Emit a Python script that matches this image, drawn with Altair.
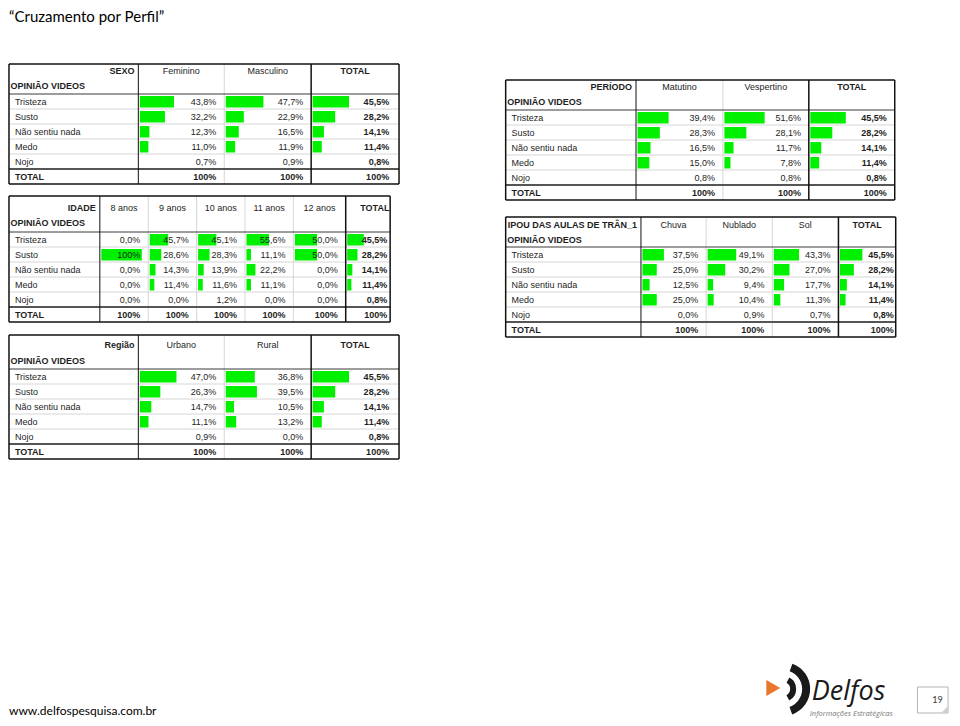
import altair as alt
import pandas as pd

# ---------------- data ----------------
LINHAS = ["Tristeza", "Susto", "Não sentiu nada", "Medo", "Nojo"]
TOTAL_GERAL = [45.5, 28.2, 14.1, 11.4, 0.8]

SEXO_COLS = ["Feminino", "Masculino"]
SEXO_FEMININO = [43.8, 32.2, 12.3, 11.0, 0.7]
SEXO_MASCULINO = [47.7, 22.9, 16.5, 11.9, 0.9]

IDADE_COLS = ["8 anos", "9 anos", "10 anos", "11 anos", "12 anos"]
IDADE_8 = [0.0, 100.0, 0.0, 0.0, 0.0]
IDADE_9 = [45.7, 28.6, 14.3, 11.4, 0.0]
IDADE_10 = [45.1, 28.3, 13.9, 11.6, 1.2]
IDADE_11 = [55.6, 11.1, 22.2, 11.1, 0.0]
IDADE_12 = [50.0, 50.0, 0.0, 0.0, 0.0]

REGIAO_COLS = ["Urbano", "Rural"]
REGIAO_URBANO = [47.0, 26.3, 14.7, 11.1, 0.9]
REGIAO_RURAL = [36.8, 39.5, 10.5, 13.2, 0.0]

PERIODO_COLS = ["Matutino", "Vespertino"]
PERIODO_MATUTINO = [39.4, 28.3, 16.5, 15.0, 0.8]
PERIODO_VESPERTINO = [51.6, 28.1, 11.7, 7.8, 0.8]

CLIMA_COLS = ["Chuva", "Nublado", "Sol"]
CLIMA_CHUVA = [37.5, 25.0, 12.5, 25.0, 0.0]
CLIMA_NUBLADO = [49.1, 30.2, 9.4, 10.4, 0.9]
CLIMA_SOL = [43.3, 27.0, 17.7, 11.3, 0.7]

TITULO = "\u201cCruzamento por Perfil\u201d"
RODAPE = "www.delfospesquisa.com.br"
PAGINA = "19"

# ---------------- layout (reference pixel space) ----------------
TABLES = [
    dict(var="SEXO", cols=SEXO_COLS, vals=[SEXO_FEMININO, SEXO_MASCULINO],
         bounds=[2, 133, 220, 308, 397], top=64, head_y=71, opin_y=86, hb=94, tpad=10, tdx=0),
    dict(var="IDADE", cols=IDADE_COLS, vals=[IDADE_8, IDADE_9, IDADE_10, IDADE_11, IDADE_12],
         bounds=[2, 94, 143, 192, 241, 290, 343, 388], top=196, head_y=208, opin_y=223, hb=232, tpad=3, tdx=7),
    dict(var="Região", cols=REGIAO_COLS, vals=[REGIAO_URBANO, REGIAO_RURAL],
         bounds=[2, 133, 220, 308, 397], top=335, head_y=345, opin_y=361, hb=369, tpad=10, tdx=0),
    dict(var="PERÍODO", cols=PERIODO_COLS, vals=[PERIODO_MATUTINO, PERIODO_VESPERTINO],
         bounds=[505, 637, 725, 812, 899], top=80, head_y=87, opin_y=102, hb=110, tpad=8, tdx=0),
    dict(var="IPOU DAS AULAS DE TRÂN_1", cols=CLIMA_COLS, vals=[CLIMA_CHUVA, CLIMA_NUBLADO, CLIMA_SOL],
         bounds=[505, 642, 708, 775, 842, 900], top=217, head_y=225, opin_y=240, hb=247, tpad=2, tdx=0),
]
ROW_H = 15
GREEN = "#00f000"
INK = "#1e1e1e"
LIGHT = "#d6d6d6"


def fmt(v):
    if v >= 100:
        return "100%"
    return f"{v:.1f}".replace(".", ",") + "%"


bars, texts, rules = [], [], []


def add_text(x, y, t, align="left", weight="normal", size=9, color=INK, font="Liberation Sans", italic=False):
    texts.append(dict(x=x, y=y, text=t, align=align, weight=weight, size=size,
                      color=color, font=font, italic=italic))


def add_rule(x, y, x2, y2, color, w):
    rules.append(dict(x=x, y=y, x2=x2, y2=y2, color=color, w=w))


for T in TABLES:
    b = T["bounds"]
    left, right = b[0], b[-1]
    top, hb = T["top"], T["hb"]
    bottom = hb + ROW_H * 6
    cols = T["cols"] + ["TOTAL"]
    vals = T["vals"] + [TOTAL_GERAL]
    ncol = len(cols)
    # header
    add_text(b[1] - 4, T["head_y"], T["var"], align="right", weight="bold")
    add_text(left + 1.5, T["opin_y"], "OPINIÃO VIDEOS", weight="bold")
    for j, c in enumerate(cols):
        cl, cr = b[j + 1], b[j + 2]
        is_tot = j == ncol - 1
        cx = (cl + cr) / 2 + (T["tdx"] if is_tot else 0)
        add_text(cx, T["head_y"], c, align="center", weight="bold" if is_tot else "normal")
    # body
    for i, lab in enumerate(LINHAS):
        ry0 = hb + i * ROW_H
        yc = ry0 + ROW_H / 2
        add_text(left + 6, yc, lab)
        for j in range(ncol):
            cl, cr = b[j + 1], b[j + 2]
            v = vals[j][i]
            is_tot = j == ncol - 1
            full = (cr - cl) - 8
            if v >= 1.5:
                bars.append(dict(x=cl + 1.5, x2=cl + 1.5 + v / 100 * full, y=ry0 + 2, y2=ry0 + ROW_H - 1.5))
            pad = T["tpad"] if is_tot else 8
            add_text(cr - pad, yc, fmt(v), align="right", weight="bold" if is_tot else "normal")
    # total row
    yc = hb + 5 * ROW_H + ROW_H / 2
    add_text(left + 6, yc, "TOTAL", weight="bold")
    for j in range(ncol):
        cr = b[j + 2]
        pad = T["tpad"] if j == ncol - 1 else 8
        add_text(cr - pad, yc, "100%", align="right", weight="bold")
    # light row separators
    for k in range(1, 5):
        add_rule(left, hb + k * ROW_H, right, hb + k * ROW_H, LIGHT, 1)
    # light verticals between value columns
    for xb in b[2:-2]:
        add_rule(xb, top, xb, bottom, LIGHT, 1)
    # header bottom, total separator
    add_rule(left, hb, right, hb, "#3a3a3a", 1)
    add_rule(left, hb + 5 * ROW_H, right, hb + 5 * ROW_H, "#555555", 2)
    # main verticals
    add_rule(b[1], top, b[1], bottom, "#111111", 1)
    add_rule(b[-2], top, b[-2], bottom, "#111111", 1.5)
    # outer box
    add_rule(left, top, right, top, "#111111", 1.5)
    add_rule(left, bottom, right, bottom, "#111111", 1.5)
    add_rule(left, top, left, bottom, "#111111", 1.5)
    add_rule(right, top, right, bottom, "#111111", 1.5)

# page title & footer
add_text(2, 17, TITULO, size=15, color="#000000", font="Lato")
add_text(2, 711, RODAPE, size=12, color="#000000", font="Lato")
# logo texts
add_text(815, 692, "Delfos", size=27, color="#1a1a1a", font="Open Sans", italic=True)
add_text(813, 714, "Informações Estratégicas", size=7.5, color="#777777", font="Open Sans", italic=True)
add_text(937, 700, PAGINA, size=9, color="#333333", font="Lato")

bars_df = pd.DataFrame(bars)
texts_df = pd.DataFrame(texts)
rules_df = pd.DataFrame(rules)

W, H = 944, 710
XS = alt.Scale(domain=[1, 957], range=[0, W], zero=False, nice=False)
YS = alt.Scale(domain=[8, 718], range=[0, H], zero=False, nice=False)
X = alt.X("x:Q", scale=XS, axis=None)
Y = alt.Y("y:Q", scale=YS, axis=None)

layers = []

# page number box
box_df = pd.DataFrame([dict(x=922, x2=953, y=687, y2=713)])
layers.append(alt.Chart(box_df).mark_rect(fill="white", stroke="#b5b5b5", strokeWidth=1).encode(
    x=X, y=Y, x2="x2:Q", y2="y2:Q"))
fold_df = pd.DataFrame([dict(x=949.5, y=709.5)])
layers.append(alt.Chart(fold_df).mark_point(shape="M 1 -1 L 1 1 L -1 1 Z", filled=True, color="#cfcfcf",
                                             size=40, opacity=1).encode(x=X, y=Y))

layers.append(alt.Chart(bars_df).mark_rect(color=GREEN).encode(x=X, y=Y, x2="x2:Q", y2="y2:Q"))
layers.append(alt.Chart(rules_df).mark_rule().encode(
    x=X, y=Y, x2="x2:Q", y2="y2:Q",
    color=alt.Color("color:N", scale=None),
    strokeWidth=alt.StrokeWidth("w:Q", scale=None)))

# logo shapes
tri_df = pd.DataFrame([dict(x=776, y=688)])
layers.append(alt.Chart(tri_df).mark_point(shape="triangle-right", filled=True, color="#e8772e",
                                            size=260, opacity=1).encode(x=X, y=Y))
arc_df = pd.DataFrame([dict(x=786, y=689)])
layers.append(alt.Chart(arc_df).mark_arc(innerRadius=19, outerRadius=27, theta=0.35, theta2=2.8,
                                          color="#1a1a1a").encode(x=X, y=Y))
layers.append(alt.Chart(arc_df).mark_arc(innerRadius=7, outerRadius=13, theta=0.5, theta2=2.65,
                                          color="#1a1a1a").encode(x=X, y=Y))

for (align, weight, font, italic), sub in texts_df.groupby(["align", "weight", "font", "italic"]):
    layers.append(alt.Chart(sub.reset_index(drop=True)).mark_text(
        align=align, baseline="middle", fontWeight=weight, font=font,
        fontStyle="italic" if italic else "normal").encode(
        x=X, y=Y, text="text:N",
        size=alt.Size("size:Q", scale=None),
        color=alt.Color("color:N", scale=None)))

chart = alt.layer(*layers).properties(
    width=W, height=H, padding=0, autosize=alt.AutoSizeParams(type="none"),
    background="white"
).configure_view(stroke=None)

chart.save("out.html", embed_options={"renderer": "svg", "actions": False})
